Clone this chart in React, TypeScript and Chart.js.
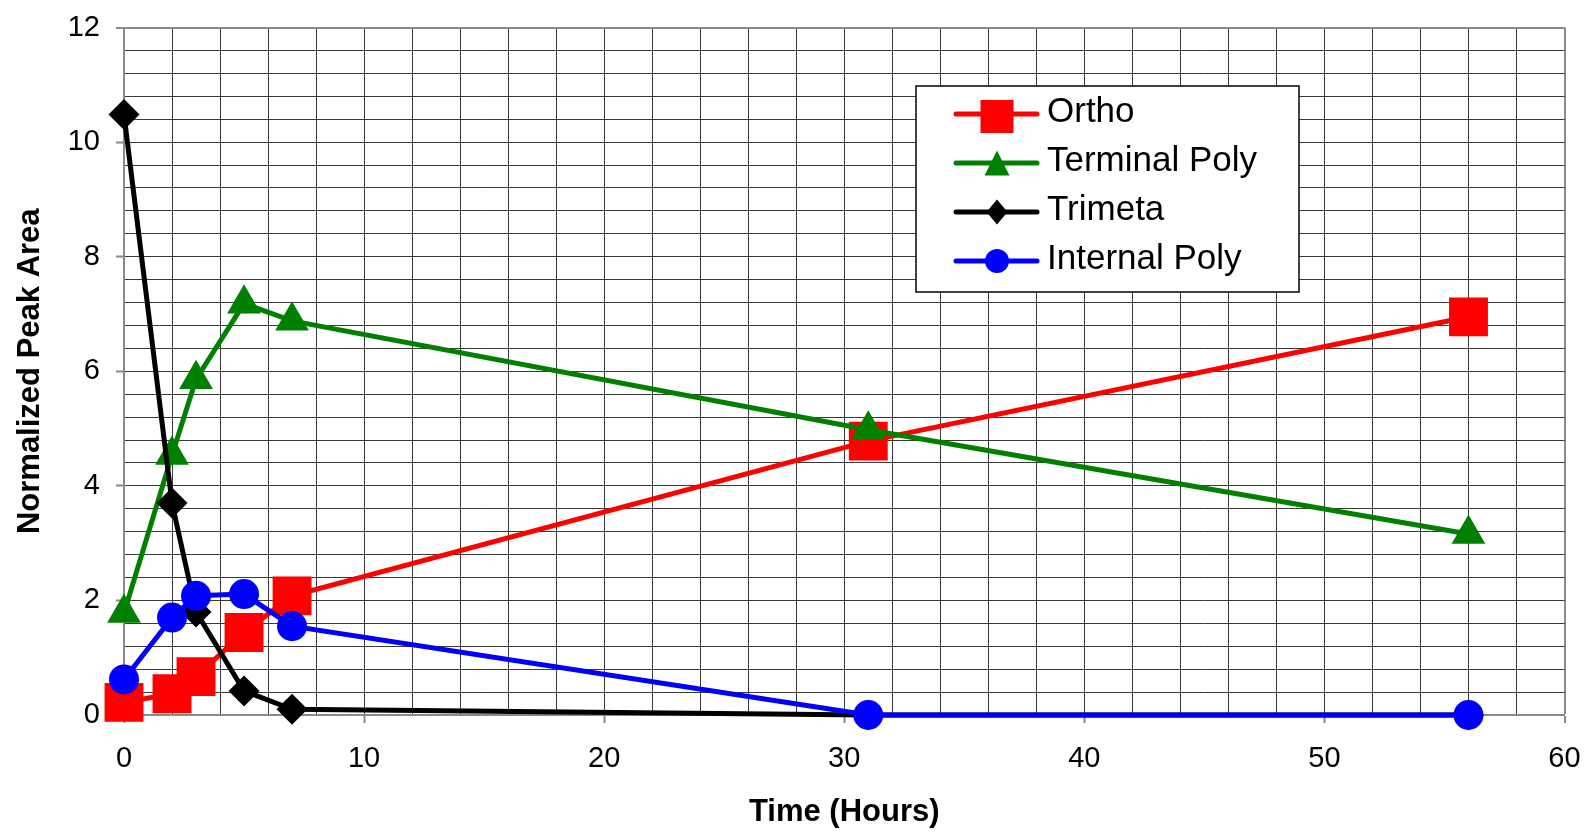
import React, { useEffect, useRef } from 'react';
import { Chart, registerables } from 'chart.js';

Chart.register(...registerables);

// ---- Data ----
const hours = [0, 2, 3, 5, 7, 31, 56];
const ortho = [0.22, 0.37, 0.67, 1.44, 2.08, 4.78, 6.95];
const terminalPoly = [1.78, 4.54, 5.86, 7.18, 6.88, 4.98, 3.16];
const trimeta = [10.48, 3.7, 1.8, 0.42, 0.1, 0, 0];
const internalPoly = [0.62, 1.7, 2.08, 2.11, 1.55, 0, 0];

const seriesNames = ['Ortho', 'Terminal Poly', 'Trimeta', 'Internal Poly'];
const xTickLabels = ['0', '10', '20', '30', '40', '50', '60'];
const yTickLabels = ['0', '2', '4', '6', '8', '10', '12'];
const xTitle = 'Time (Hours)';
const yTitle = 'Normalized Peak Area';

const FONT = "'Liberation Sans', Arial, Helvetica, sans-serif";
const GRID = '#3a3a3a';
const FRAME = '#8a8a8a';

const fmt = (v: number) => String(Math.round(v * 1000) / 1000);

const toPoints = (ys: number[]) => hours.map((h, i) => ({ x: h, y: ys[i] }));

const legendItems = [
  { name: seriesNames[0], color: '#FF0000', shape: 'square' },
  { name: seriesNames[1], color: '#008000', shape: 'triangle' },
  { name: seriesNames[2], color: '#000000', shape: 'diamond' },
  { name: seriesNames[3], color: '#0000FF', shape: 'circle' },
];

const boxLegend = {
  id: 'boxLegend',
  afterDraw(chart: any) {
    const ctx: CanvasRenderingContext2D = chart.ctx;
    const bx = 916, by = 86, bw = 383, bh = 206;
    ctx.save();
    ctx.fillStyle = '#ffffff';
    ctx.fillRect(bx, by, bw, bh);
    ctx.strokeStyle = '#000000';
    ctx.lineWidth = 1.5;
    ctx.strokeRect(bx, by, bw, bh);
    const rowY = [114, 163, 212, 261];
    legendItems.forEach((it, i) => {
      const cy = rowY[i];
      const cx = 997;
      ctx.strokeStyle = it.color;
      ctx.fillStyle = it.color;
      ctx.lineWidth = 5;
      ctx.lineCap = 'round';
      ctx.beginPath();
      ctx.moveTo(956, cy);
      ctx.lineTo(1037, cy);
      ctx.stroke();
      ctx.beginPath();
      if (it.shape === 'square') {
        ctx.rect(cx - 16.5, cy - 14, 33, 33);
      } else if (it.shape === 'triangle') {
        ctx.moveTo(cx, cy - 12.5);
        ctx.lineTo(cx + 12.5, cy + 12.5);
        ctx.lineTo(cx - 12.5, cy + 12.5);
        ctx.closePath();
      } else if (it.shape === 'diamond') {
        ctx.moveTo(cx, cy - 12.5);
        ctx.lineTo(cx + 10.5, cy);
        ctx.lineTo(cx, cy + 12.5);
        ctx.lineTo(cx - 10.5, cy);
        ctx.closePath();
      } else {
        ctx.arc(cx, cy, 12, 0, Math.PI * 2);
      }
      ctx.fill();
      ctx.fillStyle = '#000000';
      ctx.font = `35px ${FONT}`;
      ctx.textBaseline = 'alphabetic';
      ctx.textAlign = 'left';
      ctx.fillText(it.name, 1047, cy + 8);
    });
    ctx.restore();
  },
};

export default function App() {
  const canvasRef = useRef<HTMLCanvasElement | null>(null);

  useEffect(() => {
    if (!canvasRef.current) return;
    Chart.defaults.font.family = FONT;
    const chart = new Chart(canvasRef.current, {
      type: 'line',
      data: {
        datasets: [
          {
            label: seriesNames[0],
            data: toPoints(ortho),
            borderColor: '#FF0000',
            backgroundColor: '#FF0000',
            borderWidth: 5,
            pointStyle: 'rect',
            pointRadius: 27.5,
            pointBorderWidth: 0,
            pointBackgroundColor: '#FF0000',
            clip: false,
            order: 4,
          },
          {
            label: seriesNames[1],
            data: toPoints(terminalPoly),
            borderColor: '#008000',
            backgroundColor: '#008000',
            borderWidth: 5,
            pointStyle: 'triangle',
            pointRadius: 19.5,
            pointBorderWidth: 0,
            pointBackgroundColor: '#008000',
            clip: false,
            order: 3,
          },
          {
            label: seriesNames[2],
            data: toPoints(trimeta),
            borderColor: '#000000',
            backgroundColor: '#000000',
            borderWidth: 5,
            pointStyle: 'rectRot',
            pointRadius: 15.5,
            pointBorderWidth: 0,
            pointBackgroundColor: '#000000',
            clip: false,
            order: 2,
          },
          {
            label: seriesNames[3],
            data: toPoints(internalPoly),
            borderColor: '#0000FF',
            backgroundColor: '#0000FF',
            borderWidth: 5,
            pointStyle: 'circle',
            pointRadius: 15,
            pointBorderWidth: 0,
            pointBackgroundColor: '#0000FF',
            clip: false,
            order: 1,
          },
        ],
      },
      options: {
        animation: false,
        responsive: false,
        devicePixelRatio: 1,
        layout: { padding: { top: 24, right: 27, left: 0, bottom: 0 } },
        plugins: {
          legend: { display: false },
          tooltip: { enabled: false },
        },
        elements: { line: { tension: 0 } },
        scales: {
          x: {
            type: 'linear',
            min: 0,
            max: 60,
            afterFit: (s: any) => {
              s.height = 120;
              s.paddingLeft = 0;
              s.paddingRight = 0;
              s.paddingTop = 0;
              s.paddingBottom = 0;
            },
            ticks: {
              stepSize: 2,
              maxTicksLimit: 1000,
              autoSkip: false,
              maxRotation: 0,
              minRotation: 0,
              padding: 19,
              color: '#000000',
              font: { size: 29 },
              callback: (v: any) => (xTickLabels.includes(fmt(Number(v))) ? fmt(Number(v)) : ''),
            },
            grid: {
              color: (c: any) => (c.tick && Math.abs(c.tick.value - 60) < 1e-6 ? FRAME : GRID),
              lineWidth: (c: any) => (c.tick && Math.abs(c.tick.value - 60) < 1e-6 ? 2 : 1),
              tickColor: (c: any) =>
                c.tick && xTickLabels.includes(fmt(c.tick.value)) ? FRAME : 'rgba(0,0,0,0)',
              tickLength: 8,
              tickWidth: 2,
            },
            border: { color: FRAME, width: 2 },
            title: {
              display: true,
              text: xTitle,
              color: '#000000',
              font: { size: 31, weight: 'bold' },
              padding: { top: 0, bottom: 4 },
            },
          },
          y: {
            type: 'linear',
            min: 0,
            max: 12,
            afterFit: (s: any) => {
              s.width = 124;
              s.paddingLeft = 0;
              s.paddingRight = 0;
              s.paddingTop = 0;
              s.paddingBottom = 0;
            },
            ticks: {
              stepSize: 0.4,
              maxTicksLimit: 1000,
              autoSkip: false,
              padding: 16,
              color: '#000000',
              font: { size: 29 },
              callback: (v: any) => (yTickLabels.includes(fmt(Number(v))) ? fmt(Number(v)) : ''),
            },
            grid: {
              color: (c: any) => (c.tick && Math.abs(c.tick.value - 12) < 1e-6 ? FRAME : GRID),
              lineWidth: (c: any) => (c.tick && Math.abs(c.tick.value - 12) < 1e-6 ? 2 : 1),
              tickColor: (c: any) =>
                c.tick && yTickLabels.includes(fmt(c.tick.value)) ? FRAME : 'rgba(0,0,0,0)',
              tickLength: 8,
              tickWidth: 2,
            },
            border: { color: FRAME, width: 2 },
            title: {
              display: true,
              text: yTitle,
              color: '#000000',
              font: { size: 31, weight: 'bold' },
              padding: { top: 12, bottom: 0 },
            },
          },
        },
      },
      plugins: [boxLegend],
    } as any);
    return () => chart.destroy();
  }, []);

  return (
    <div style={{ position: 'absolute', left: 0, top: 0, width: 1592, height: 835, background: '#ffffff' }}>
      <canvas ref={canvasRef} width={1592} height={835} style={{ display: 'block', width: 1592, height: 835 }} />
    </div>
  );
}
